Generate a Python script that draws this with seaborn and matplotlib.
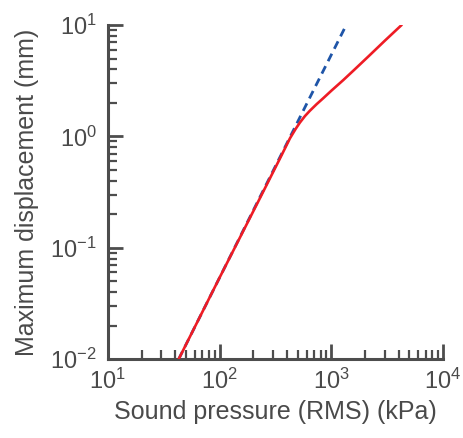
import matplotlib
matplotlib.use("Agg")
import matplotlib.pyplot as plt
import matplotlib.ticker as mticker
import seaborn as sns
import pandas as pd

# Data
model_pressure_kpa = [43, 100, 225, 347, 426, 480, 523, 580, 643, 740, 846, 1000, 1278, 1600, 2138, 3000, 4256]
model_displacement_mm = [0.01, 0.054, 0.268, 0.634, 0.96, 1.17, 1.33, 1.52, 1.70, 1.95, 2.2, 2.57, 3.2, 3.95, 5.2, 7.2, 10.0]

linear_pressure_kpa = [43, 100, 300, 600, 1000, 1350]
linear_displacement_mm = [0.01, 0.054, 0.487, 1.95, 5.41, 9.86]

x_ticks = [10, 100, 1000, 10000]
y_ticks = [0.01, 0.1, 1, 10]

sns.set_style("white")
plt.rcParams["font.family"] = ["Liberation Sans", "DejaVu Sans"]
plt.rcParams["mathtext.default"] = "regular"

text_color = "#4a4a4a"
spine_color = "#4d4d4d"

fig = plt.figure(figsize=(4.63, 4.38), dpi=100)
ax = fig.add_axes([0.233, 0.180, 0.724, 0.763])

df_lin = pd.DataFrame({"p": linear_pressure_kpa, "d": linear_displacement_mm})
df_mod = pd.DataFrame({"p": model_pressure_kpa, "d": model_displacement_mm})

sns.lineplot(data=df_lin, x="p", y="d", ax=ax, color="#1f55a8", lw=2.0,
             linestyle=(0, (3, 2)), sort=False, zorder=2)
sns.lineplot(data=df_mod, x="p", y="d", ax=ax, color="#ee1c25", lw=1.9,
             sort=False, zorder=3)

ax.set_xscale("log")
ax.set_yscale("log")
ax.set_xlim(10, 10000)
ax.set_ylim(0.01, 10)
ax.set_xticks(x_ticks)
ax.set_yticks(y_ticks)
ax.xaxis.set_minor_locator(mticker.LogLocator(base=10, subs=range(2, 10)))
ax.yaxis.set_minor_locator(mticker.LogLocator(base=10, subs=range(2, 10)))
ax.xaxis.set_minor_formatter(mticker.NullFormatter())
ax.yaxis.set_minor_formatter(mticker.NullFormatter())

for s in ["top", "right"]:
    ax.spines[s].set_visible(False)
for s in ["left", "bottom"]:
    ax.spines[s].set_color(spine_color)
    ax.spines[s].set_linewidth(2.2)

ax.tick_params(which="both", bottom=True, left=True, top=False, right=False)
ax.tick_params(which="major", direction="in", length=11, width=2.0,
               color=spine_color, labelcolor=text_color, labelsize=17)
ax.tick_params(which="minor", direction="in", length=6.5, width=1.6,
               color=spine_color)
ax.tick_params(axis="x", which="major", pad=7)
ax.tick_params(axis="y", which="major", pad=8)

ax.set_xlabel("Sound pressure (RMS) (kPa)", fontsize=18, color=text_color, labelpad=4)
ax.set_ylabel("Maximum displacement (mm)", fontsize=18, color=text_color, labelpad=8)

ax.grid(False)
ax.set_facecolor("white")
fig.savefig("out.png", dpi=100, facecolor="white")
